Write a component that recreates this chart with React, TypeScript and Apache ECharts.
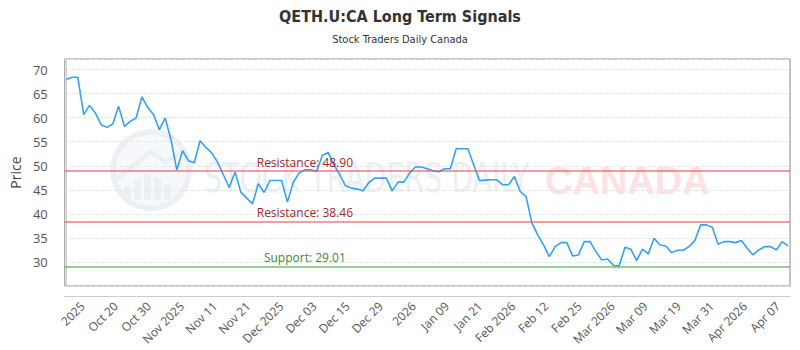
import React, { useEffect, useRef } from "react";
import * as echarts from "echarts";

// Daily closing prices, oldest first
const prices: number[] = [
  67.92, 68.4, 68.4, 60.63, 62.56, 60.98, 58.54, 57.98, 58.69, 62.35,
  58.19, 59.23, 59.94, 64.31, 62.15, 60.63, 57.5, 59.94, 55.42, 49.1,
  53.13, 51.04, 50.63, 55.21, 53.81, 52.65, 50.77, 48.13, 45.48, 48.69,
  44.52, 43.27, 42.08, 46.25, 44.44, 46.94, 46.94, 46.94, 42.44, 46.52,
  48.48, 49.17, 49.17, 48.81, 52.15, 52.77, 50.21, 48.13, 45.83, 45.35,
  45.15, 44.79, 46.52, 47.44, 47.44, 47.44, 44.79, 46.6, 46.6, 48.48,
  49.73, 49.73, 49.38, 48.96, 48.75, 49.38, 49.38, 53.54, 53.54, 53.54,
  50.21, 46.94, 47.02, 47.08, 47.08, 46.04, 46.04, 47.77, 44.65, 43.6,
  38.19, 35.63, 33.54, 31.1, 33.19, 34.02, 34.02, 31.25, 31.46, 34.23,
  34.23, 32.15, 30.42, 30.63, 29.3, 29.17, 33.06, 32.65, 30.27, 32.65,
  31.67, 34.94, 33.54, 33.33, 31.94, 32.44, 32.44, 33.19, 34.44, 37.71,
  37.71, 37.23, 33.69, 34.23, 34.23, 34.02, 34.44, 32.85, 31.46, 32.5,
  33.19, 33.19, 32.5, 34.23, 33.33,
];

const tickLabels: string[] = [
  "2025", "Oct 20", "Oct 30", "Nov 2025", "Nov 11", "Nov 21", "Dec 2025",
  "Dec 03", "Dec 15", "Dec 29", "2026", "Jan 09", "Jan 21", "Feb 2026",
  "Feb 12", "Feb 25", "Mar 2026", "Mar 09", "Mar 19", "Mar 31", "Apr 2026",
  "Apr 07",
];

const resistanceLevels: number[] = [48.9, 38.46];
const supportLevels: number[] = [29.01];

// Evenly spaced date ticks along the trading-day index
const TICK_START = 2.8;
const TICK_STEP = 5.69;
const tickPositions = tickLabels.map((_, k) => +(TICK_START + TICK_STEP * k).toFixed(3));

// Where the level captions sit along the x axis (trading-day index)
const LEVEL_LABEL_AT = 41;

const LABEL_FONT = "'Open Sans', sans-serif";
const TITLE_FONT = "'DejaVu Sans Condensed', 'DejaVu Sans', sans-serif";

export default function App() {
  const ref = useRef<HTMLDivElement>(null);

  useEffect(() => {
    if (!ref.current) return;
    const chart = echarts.init(ref.current, undefined, { renderer: "svg" });

    const levelLines = [
      ...resistanceLevels.map((v) => ({
        yAxis: v,
        lineStyle: { color: "rgba(226, 80, 86, 0.55)", width: 2, type: "solid" },
      })),
      ...supportLevels.map((v) => ({
        yAxis: v,
        lineStyle: { color: "rgba(70, 170, 70, 0.55)", width: 2, type: "solid" },
      })),
    ];

    const levelCaptions = [
      ...resistanceLevels.map((v) => ({
        coord: [LEVEL_LABEL_AT, v],
        label: { formatter: `Resistance: ${v.toFixed(2)}`, color: "#a3262c" },
      })),
      ...supportLevels.map((v) => ({
        coord: [LEVEL_LABEL_AT, v],
        label: { formatter: `Support: ${v.toFixed(2)}`, color: "#3b8a3b" },
      })),
    ];

    const wmBlue = "#eceff4";
    const watermark = {
      type: "group",
      silent: true,
      z: -10,
      children: [
        {
          type: "ring",
          shape: { cx: 151, cy: 170, r: 41, r0: 35 },
          style: { fill: wmBlue },
        },
        {
          type: "circle",
          shape: { cx: 151, cy: 170, r: 35 },
          style: { fill: "#f7f8fb" },
        },
        ...[
          [124, 186, 14],
          [134, 180, 20],
          [144, 174, 26],
          [154, 178, 22],
          [164, 184, 16],
        ].map(([x, y, h]) => ({
          type: "rect",
          shape: { x, y, width: 7, height: h },
          style: { fill: wmBlue },
        })),
        {
          type: "polyline",
          shape: { points: [[118, 178], [150, 152], [166, 162], [184, 150]] },
          style: { stroke: wmBlue, lineWidth: 5, fill: "none" },
        },
        {
          type: "text",
          x: 204,
          y: 178,
          scaleX: 0.79,
          style: {
            text: "STOCK TRADERS DAILY",
            font: "40px 'DejaVu Sans Condensed', 'DejaVu Sans', sans-serif",
            fill: wmBlue,
            verticalAlign: "middle",
          },
        },
        {
          type: "text",
          x: 545,
          y: 181,
          style: {
            text: "CANADA",
            font: "bold 38px 'Liberation Sans', Arial, sans-serif",
            fill: "#fce2e5",
            verticalAlign: "middle",
          },
        },
      ],
    };

    chart.setOption({
      animation: false,
      backgroundColor: "#ffffff",
      title: {
        text: "QETH.U:CA Long Term Signals",
        subtext: "Stock Traders Daily Canada",
        left: "center",
        top: 3,
        itemGap: 10,
        textStyle: {
          fontFamily: TITLE_FONT,
          fontWeight: "bold",
          fontSize: 16,
          color: "#333333",
        },
        subtextStyle: {
          fontFamily: TITLE_FONT,
          fontSize: 11,
          color: "#333333",
        },
      },
      graphic: [watermark],
      grid: {
        left: 60,
        right: 10,
        top: 59,
        bottom: 64,
        show: true,
        borderColor: "#8a8a8a",
        borderWidth: 1,
      },
      xAxis: {
        type: "value",
        min: -0.25,
        max: 124.35,
        offset: 10,
        axisLine: { show: true, lineStyle: { color: "#cccccc" } },
        axisTick: { show: false },
        splitLine: { show: false },
        axisLabel: {
          customValues: tickPositions,
          rotate: 45,
          margin: 8,
          fontFamily: LABEL_FONT,
          fontSize: 12,
          color: "#555555",
          formatter: (v: number) => {
            const k = Math.round((v - TICK_START) / TICK_STEP);
            return tickLabels[k] ?? "";
          },
        },
      },
      yAxis: {
        type: "value",
        min: 25,
        max: 72.2,
        interval: 5,
        offset: 10,
        name: "Price",
        nameLocation: "middle",
        nameGap: 31,
        nameTextStyle: { fontFamily: LABEL_FONT, fontSize: 14, color: "#444444" },
        axisLine: { show: true, lineStyle: { color: "#cccccc" } },
        axisTick: { show: false },
        axisLabel: {
          margin: 7,
          fontFamily: LABEL_FONT,
          fontSize: 13,
          color: "#555555",
          formatter: (v: number) => (v % 5 === 0 && v >= 30 && v <= 70 ? String(v) : ""),
        },
        splitLine: { show: true, lineStyle: { color: "#e6e6e6", type: "dashed" } },
      },
      series: [
        {
          type: "line",
          data: prices.map((p, i) => [i, p]),
          showSymbol: false,
          lineStyle: { color: "#34a2f4", width: 1.6 },
          itemStyle: { color: "#34a2f4" },
          z: 3,
          markLine: {
            silent: true,
            symbol: "none",
            label: { show: false },
            data: levelLines,
          },
          markPoint: {
            silent: true,
            symbol: "circle",
            symbolSize: 0,
            label: {
              show: true,
              position: "inside",
              offset: [0, -9],
              fontFamily: LABEL_FONT,
              fontSize: 12,
            },
            data: levelCaptions,
          },
        },
      ],
    });

    return () => chart.dispose();
  }, []);

  return (
    <div
      ref={ref}
      style={{ position: "absolute", left: 0, top: 0, width: 800, height: 350 }}
    />
  );
}
